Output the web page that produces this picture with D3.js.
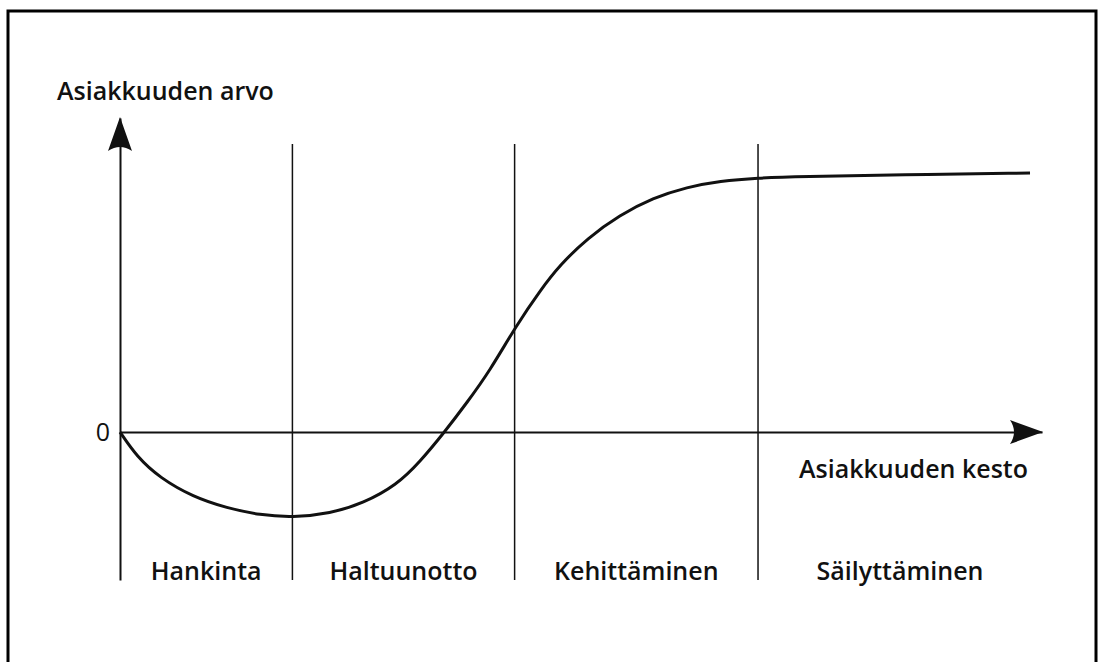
<!DOCTYPE html>
<html>
<head>
  <meta charset="utf-8">
  <title>Asiakkuuden arvo</title>
  <script src="https://cdn.jsdelivr.net/npm/d3@7/dist/d3.min.js"></script>
  <style>
    body { margin: 0; background: #fff; }
    text { font-family: "Open Sans", "Noto Sans", sans-serif; fill: #111; font-size: 25px; font-weight: 600; }
    .domain { stroke: #111; stroke-width: 2; }
  </style>
</head>
<body>
  <svg id="chart"></svg>
  <script>
    // phases along the time axis (x values are boundaries, 0..100 = axis length)
    var phases = ['Hankinta', 'Haltuunotto', 'Kehittäminen', 'Säilyttäminen'];
    var phaseBounds = [0, 18.7, 42.8, 69.2, 100];

    // customer value curve
    var curveX = [0, 1.84, 4.34, 7.92, 11.6, 15.2, 18.7, 22.8, 26.4, 30.0, 32.5, 35.2, 37.6, 40.1, 43.0, 45.6, 47.7, 50.7, 54.2, 57.8, 61.5, 65.1, 69.1, 73.8, 84.6, 98.7];
    var curveY = [0, -9.6, -17.7, -25.0, -29.3, -32.0, -32.9, -31.4, -27.4, -20.4, -11.6, 0, 11.2, 23.5, 41.2, 54.7, 64.3, 74.7, 83.6, 90.2, 94.4, 96.7, 97.9, 98.4, 99.1, 99.8];

    var yLimits = [-57, 121];   // y axis from bottom to arrow tip
    var dividerTop = 111;
    var zeroLabel = '0';
    var yTitle = 'Asiakkuuden arvo';
    var xTitle = 'Asiakkuuden kesto';

    var width = 1098, height = 662;

    var x = d3.scaleLinear()
      .domain([0, 100])
      .range([120, 1042]);

    var y = d3.scaleLinear()
      .domain(yLimits)
      .range([580, 118]);

    var svg = d3.select('#chart')
      .attr('width', width)
      .attr('height', height);

    // frame around the figure (bottom edge falls outside)
    svg.append('rect')
      .attr('x', 8)
      .attr('y', 11)
      .attr('width', 1088)
      .attr('height', 700)
      .style('fill', 'none')
      .style('stroke', '#000')
      .style('stroke-width', 3);

    // phase dividers
    svg.selectAll('line.divider')
      .data(phaseBounds.slice(1, -1))
      .enter()
      .append('line')
      .attr('class', 'divider')
      .attr('x1', d => x(d))
      .attr('x2', d => x(d))
      .attr('y1', y(dividerTop))
      .attr('y2', y(yLimits[0]))
      .style('stroke', '#111')
      .style('stroke-width', 1.5);

    var xAxis = d3.axisBottom(x).tickValues([]).tickSizeOuter(0);
    var yAxis = d3.axisLeft(y).tickValues([]).tickSizeOuter(0);

    svg.append('g')
      .attr('transform', 'translate(0,' + y(0) + ')')
      .call(xAxis);

    svg.append('g')
      .attr('transform', 'translate(' + x(0) + ',0)')
      .call(yAxis);

    // arrow heads
    var ax = x(100), ay = y(0);
    svg.append('path')
      .attr('d', 'M' + (ax + 1) + ',' + ay + 'L' + (ax - 32) + ',' + (ay - 12) +
        'Q' + (ax - 24) + ',' + ay + ' ' + (ax - 32) + ',' + (ay + 12) + 'Z')
      .style('fill', '#111');

    var bx = x(0), by = y(yLimits[1]);
    svg.append('path')
      .attr('d', 'M' + bx + ',' + (by - 1) + 'L' + (bx - 12) + ',' + (by + 33) +
        'Q' + bx + ',' + (by + 25) + ' ' + (bx + 12) + ',' + (by + 33) + 'Z')
      .style('fill', '#111');

    // value curve
    var line = d3.line()
      .x(d => x(d[0]))
      .y(d => y(d[1]))
      .curve(d3.curveBasis);

    svg.append('path')
      .datum(curveX.map((v, i) => [v, curveY[i]]))
      .attr('d', line)
      .style('fill', 'none')
      .style('stroke', '#111')
      .style('stroke-width', 3);

    // labels
    svg.append('text')
      .attr('x', x(0) - 63)
      .attr('y', 100)
      .text(yTitle);

    svg.append('text')
      .attr('x', x(0) - 10)
      .attr('y', y(0) + 9)
      .attr('text-anchor', 'end')
      .style('font-weight', 400)
      .text(zeroLabel);

    svg.append('text')
      .attr('x', 1028)
      .attr('y', 478)
      .attr('text-anchor', 'end')
      .text(xTitle);

    svg.selectAll('text.phase')
      .data(phases)
      .enter()
      .append('text')
      .attr('class', 'phase')
      .attr('x', (d, i) => (x(phaseBounds[i]) + x(phaseBounds[i + 1])) / 2)
      .attr('y', 580)
      .attr('text-anchor', 'middle')
      .text(d => d);
  </script>
</body>
</html>
